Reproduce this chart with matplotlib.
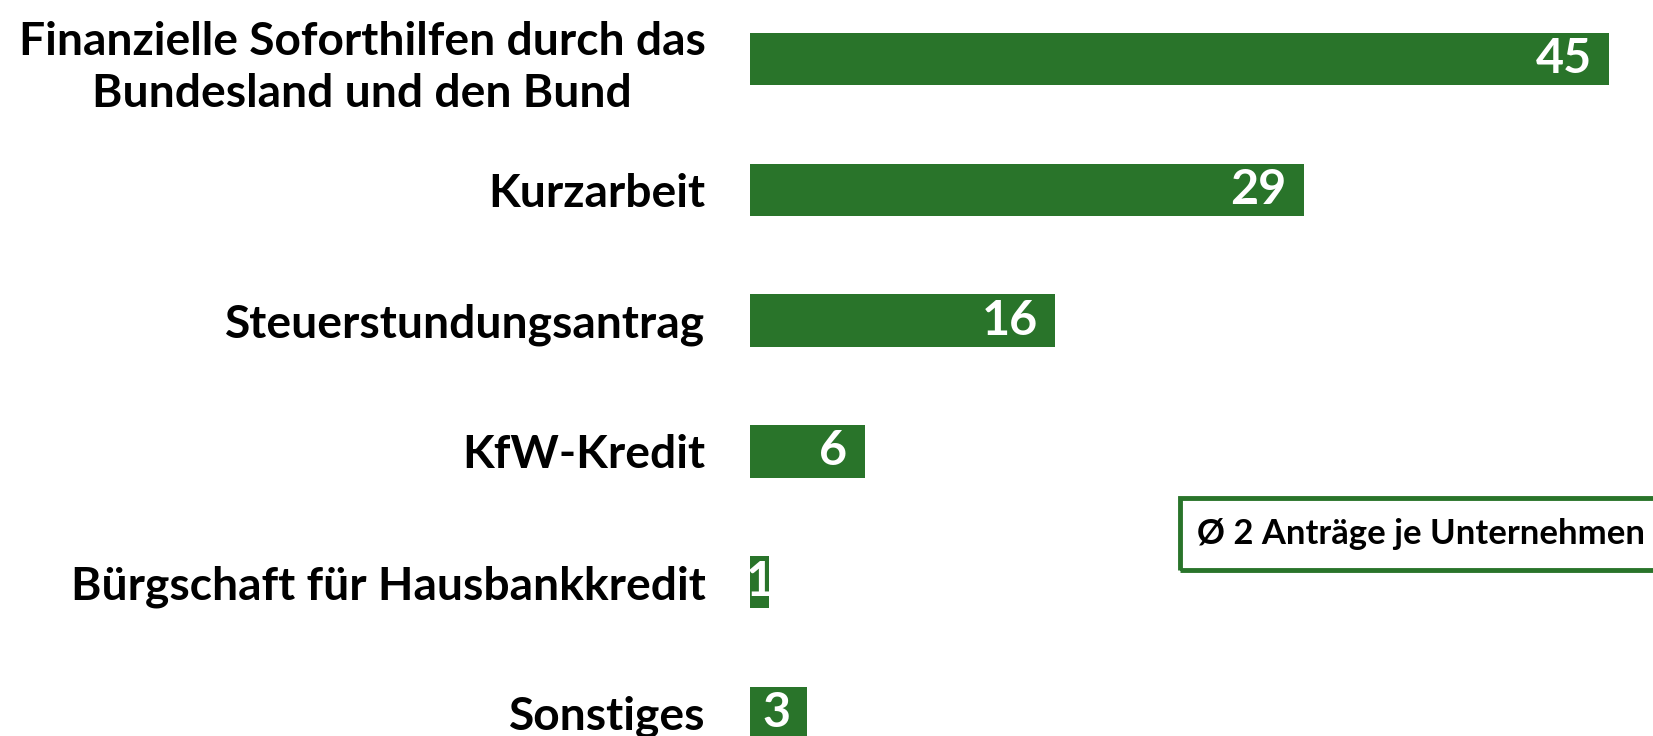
import matplotlib.pyplot as plt
from matplotlib.patches import Rectangle

# Daten
kategorien = [
    "Finanzielle Soforthilfen durch das\nBundesland und den Bund",
    "Kurzarbeit",
    "Steuerstundungsantrag",
    "KfW-Kredit",
    "Bürgschaft für Hausbankkredit",
    "Sonstiges",
]
werte = [45, 29, 16, 6, 1, 3]
hinweis = "Ø 2 Anträge je Unternehmen"

gruen = "#29742a"
schrift = ["Lato", "DejaVu Sans"]

fig = plt.figure(figsize=(16.53, 7.36), dpi=100)
ax = fig.add_axes([0.4537, 0.0, 0.5463, 1.0])
renderer = fig.canvas.get_renderer()


def passende_groesse(text, ziel_px, start=30):
    # Schriftgröße so wählen, dass die Textbreite ungefähr ziel_px erreicht
    t = fig.text(0, 0, text, fontsize=start, fontweight="bold", family=schrift)
    b = t.get_window_extent(renderer).width
    t.remove()
    return start * ziel_px / b


gr_label = passende_groesse("Finanzielle Soforthilfen durch das", 685)
gr_hinweis = passende_groesse(hinweis, 446)

y = list(range(len(werte)))
ax.barh(y, werte, height=0.4, color=gruen)

for yi, w in zip(y, werte):
    if w >= 3:
        ax.text(w - 0.9, yi, str(w), ha="right", va="center", color="white",
                fontsize=gr_label * 1.05, fontweight="bold", family=schrift)
    else:
        ax.text(w / 2, yi, str(w), ha="center", va="center", color="white",
                fontsize=gr_label * 1.05, fontweight="bold", family=schrift)

ax.set_xlim(0, 47.3)
ax.set_ylim(5.176, -0.451)
ax.set_yticks(y)
ax.set_yticklabels(kategorien, fontsize=gr_label, fontweight="bold", family=schrift,
                   multialignment="center", linespacing=1.3)
ax.tick_params(axis="y", length=0, pad=32)
ax.set_xticks([])
for s in ax.spines.values():
    s.set_visible(False)

# Hinweisbox rechts
fig.patches.append(Rectangle((1180 / 1653, 1 - 570 / 736), 0.3, 72 / 736,
                             transform=fig.transFigure, fill=False,
                             edgecolor=gruen, linewidth=3.5))
fig.text(1197 / 1653, 1 - 534 / 736, hinweis, ha="left", va="center",
         fontsize=gr_hinweis, fontweight="bold", family=schrift)

plt.savefig("out.png", dpi=100)
